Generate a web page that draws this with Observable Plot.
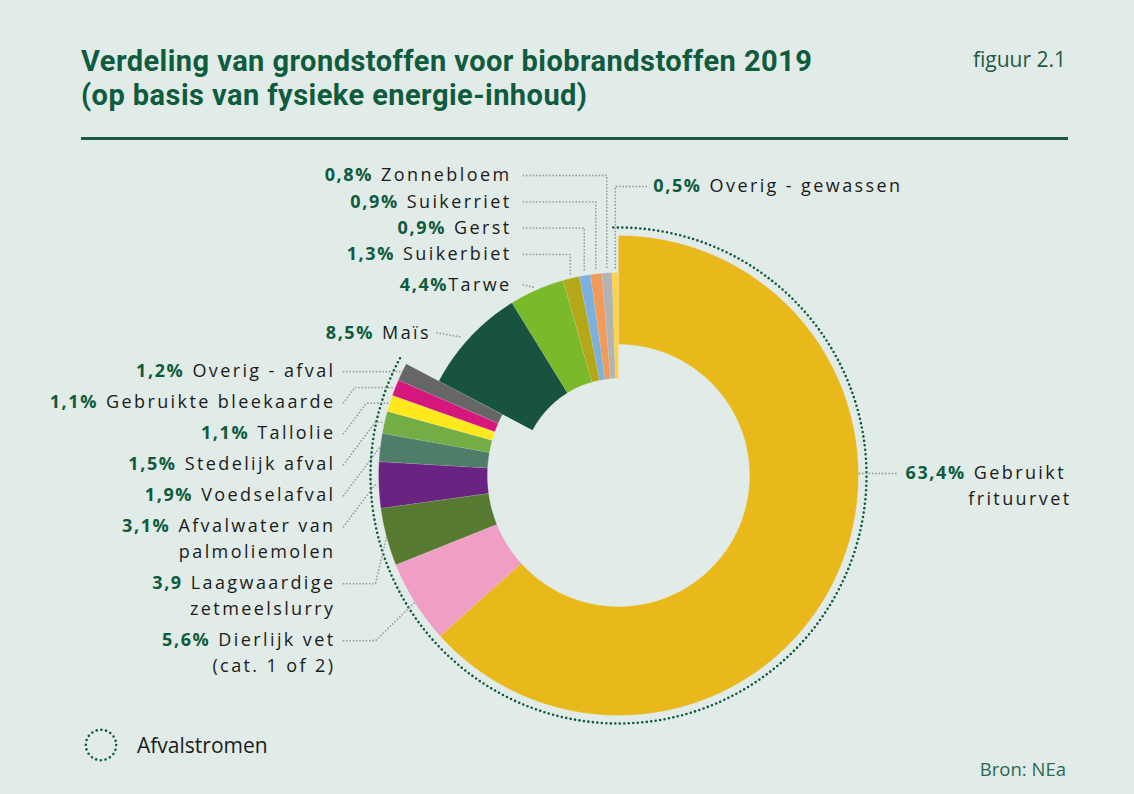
<!DOCTYPE html>
<html><head><meta charset="utf-8">
<script src="https://cdn.jsdelivr.net/npm/d3@7"></script>
<script src="https://cdn.jsdelivr.net/npm/@observablehq/plot@0.6"></script>
<style>
html,body{margin:0;padding:0;background:#ffffff;}
#card{position:relative;width:1134px;height:794px;background:#e1ebe7;overflow:hidden;font-family:"Open Sans",sans-serif;}
.title{position:absolute;left:81px;font-family:Roboto,"Open Sans",sans-serif;font-weight:bold;font-size:29px;line-height:29px;letter-spacing:0.45px;color:#0f5b3d;white-space:nowrap;}
#t1{top:47px;}
#t2{top:81px;}
#fig{position:absolute;right:68px;top:49px;font-size:21px;line-height:21px;color:#1d5c45;}
#rule{position:absolute;left:81px;top:137px;width:987px;height:3px;background:#1b5a41;}
#chart{position:absolute;left:0;top:150px;}
#chart svg{letter-spacing:2.4px;}
#chart g[font-weight="700"]{letter-spacing:1.6px;}
#legend{position:absolute;left:84px;top:728px;display:flex;align-items:center;gap:19px;font-size:21px;color:#1b1b1b;}
#source{position:absolute;right:68px;top:760px;font-size:18.5px;line-height:18.5px;color:#2a6a51;}
</style></head>
<body>
<div id="card">
  <div class="title" id="t1">Verdeling van grondstoffen voor biobrandstoffen 2019</div>
  <div class="title" id="t2">(op basis van fysieke energie-inhoud)</div>
  <div id="fig">figuur 2.1</div>
  <div id="rule"></div>
  <div id="chart"></div>
  <div id="legend"><svg width="34" height="34"><circle cx="17" cy="17" r="15.2" fill="none" stroke="#0f5b3d" stroke-width="2.6" stroke-dasharray="0 4.77" stroke-linecap="round"/></svg><span>Afvalstromen</span></div>
  <div id="source">Bron: NEa</div>
</div>
<script>
// ---- data (clockwise from 12 o'clock) ----
const categories = ["Gebruikt frituurvet","Dierlijk vet (cat. 1 of 2)","Laagwaardige zetmeelslurry","Afvalwater van palmoliemolen","Voedselafval","Stedelijk afval","Tallolie","Gebruikte bleekaarde","Overig - afval","Maïs","Tarwe","Suikerbiet","Gerst","Suikerriet","Zonnebloem","Overig - gewassen"];
const values = [63.4, 5.6, 3.9, 3.1, 1.9, 1.5, 1.1, 1.1, 1.2, 8.5, 4.4, 1.3, 0.9, 0.9, 0.8, 0.5];
const groups = ["afval","afval","afval","afval","afval","afval","afval","afval","afval","gewas","gewas","gewas","gewas","gewas","gewas","gewas"];
const colors = ["#e9b81a","#f09ec4","#567a2f","#6a2380","#4e7d69","#72ad45","#ffe91e","#d5177e","#666666","#175340","#7ab929","#b5a818","#7db0dd","#f29a5a","#b3b3b3","#ffd23f"];
const pctLabels = ["63,4%","5,6%","3,9","3,1%","1,9%","1,5%","1,1%","1,1%","1,2%","8,5%","4,4%","1,3%","0,9%","0,9%","0,8%","0,5%"];
const nameLines = [["Gebruikt","frituurvet"],["Dierlijk vet","(cat. 1 of 2)"],["Laagwaardige","zetmeelslurry"],["Afvalwater van","palmoliemolen"],["Voedselafval"],["Stedelijk afval"],["Tallolie"],["Gebruikte bleekaarde"],["Overig - afval"],["Maïs"],["Tarwe"],["Suikerbiet"],["Gerst"],["Suikerriet"],["Zonnebloem"],["Overig - gewassen"]];

// ---- geometry (pixel-like units, y up, centre of donut at 0,0) ----
const ring = {afval: [131, 240], gewas: [97, 203]};
const rad = a => a * Math.PI / 180;
const pt = (a, r) => ({x: r * Math.sin(rad(a)), y: r * Math.cos(rad(a))});
const total = d3.sum(values);
let cum = 0;
const slices = categories.map((name, i) => {
  const a0 = cum / total * 360; cum += values[i]; const a1 = cum / total * 360;
  return {i, name, a0, a1, mid: (a0 + a1) / 2, group: groups[i]};
});

const ringPts = [];
for (const s of slices) {
  const [r0, r1] = ring[s.group];
  const n = Math.max(2, Math.ceil((s.a1 - s.a0) / 0.5));
  for (let k = 0; k <= n; k++) ringPts.push({name: s.name, ...pt(s.a0 + (s.a1 - s.a0) * k / n, r1)});
  for (let k = n; k >= 0; k--) ringPts.push({name: s.name, ...pt(s.a0 + (s.a1 - s.a0) * k / n, r0)});
}

// dotted arc around the waste streams
const arcPts = d3.range(-1.2, 299.01, 0.25).map(a => pt(a, 248));

// ---- text measurement ----
const ctx = document.createElement("canvas").getContext("2d");
const LSN = 2.4, LSP = 1.6;
function tw(str, weight) { ctx.font = `${weight} 18px "Open Sans"`; return ctx.measureText(str).width + (weight > 500 ? LSP : LSN) * str.length; }

const nameRows = [], pctRows = [], leaders = [];
function addLabel(i, anchor, x, y, L, path) {
  const lines = nameLines[i], pct = pctLabels[i];
  const gap = categories[i] === "Tarwe" ? 0 : 8;
  if (anchor === "end") {
    lines.forEach((t, k) => nameRows.push({text: t, x, y: y - 26 * k, anchor}));
    pctRows.push({text: pct, x: x - tw(lines[0], 400) - gap, y, anchor: "end"});
  } else if (anchor === "start") {
    pctRows.push({text: pct, x, y, anchor: "start"});
    lines.forEach((t, k) => nameRows.push({text: t, x: x + tw(pct, 700) + gap, y: y - 26 * k, anchor: "start"}));
  } else {
    pctRows.push({text: pct, x, y, anchor: "start"});
    const cx = x + tw(pct, 700) + gap + tw(lines[0], 400) / 2;
    lines.forEach((t, k) => nameRows.push({text: t, x: cx, y: y - 26 * k, anchor: "middle"}));
  }
  path.forEach(p => leaders.push({id: i, ...p}));
}

// waste labels in a column on the left
const leftX = -283;
let yCur = pt(slices[8].mid, 240).y;
for (let i = 8; i >= 1; i--) {
  const s = slices[i], A = pt(s.mid, 240), y = yCur;
  const L = {x: leftX + 8, y};
  let path;
  if (s.mid > 260) { const dy = A.y - y; path = [L, {x: Math.min(A.x, L.x + 0.75 * dy), y: A.y}, A]; }
  else path = [L, {x: L.x + 32, y}, A];
  addLabel(i, "end", leftX, y, L, path);
  yCur -= 31 + 26 * (nameLines[i].length - 1);
}
// main slice label on the right
{
  const y = 2, x = 287;
  const A = {x: Math.sqrt(241 * 241 - y * y), y};
  addLabel(0, "middle", x, y, null, [A, {x: x - 8, y}]);
}
// small crops: column above the donut with elbow leaders
const cropX = -107, cropTop = 300, step = 26.3;
[14, 13, 12, 11].forEach((i, k) => {
  const y = cropTop - k * step, A = pt(slices[i].mid, 207), L = {x: cropX + 12, y};
  addLabel(i, "end", cropX, y, L, [L, {x: A.x, y}, A]);
});
{
  const i = 15, A = pt(slices[i].mid, 207), y = cropTop - 11, x = A.x + 38;
  addLabel(i, "start", x, y, null, [{x: x - 7, y}, {x: A.x, y}, A]);
}
{ // Tarwe
  const i = 10, A = pt(slices[i].mid, 205), y = A.y + 3;
  addLabel(i, "end", cropX, y, null, [{x: cropX + 12, y}, A]);
}
{ // Maïs
  const i = 9, A = pt(slices[i].mid, 206), y = A.y + 2, x = A.x - 37;
  addLabel(i, "end", x, y, null, [{x: x + 6, y}, {x: A.x - 8, y: A.y - 2}]);
}

const textMarks = [];
for (const anchor of ["start", "end", "middle"]) {
  const n = nameRows.filter(d => d.anchor === anchor), p = pctRows.filter(d => d.anchor === anchor);
  if (n.length) textMarks.push(Plot.text(n, {x: "x", y: "y", text: "text", textAnchor: anchor, fill: "#1b1b1b", fontSize: 18, fontWeight: 400}));
  if (p.length) textMarks.push(Plot.text(p, {x: "x", y: "y", text: "text", textAnchor: anchor, fill: "#0f5b3d", fontSize: 18, fontWeight: 700}));
}

const chart = Plot.plot({
  width: 1134, height: 580, margin: 0,
  x: {domain: [-618, 516], axis: null},
  y: {domain: [-255, 325], axis: null},
  color: {domain: categories, range: colors},
  style: {background: "transparent", fontFamily: "'Open Sans', sans-serif", fontSize: "18px", overflow: "visible"},
  marks: [
    Plot.line(ringPts, {x: "x", y: "y", z: "name", fill: "name", stroke: "#e1ebe7", strokeWidth: 0.5, strokeOpacity: 0.7, curve: "linear"}),
    Plot.line(arcPts, {x: "x", y: "y", stroke: "#0f5b3d", strokeWidth: 2.6, strokeDasharray: "0 4.5", strokeLinecap: "round"}),
    Plot.line(leaders, {x: "x", y: "y", z: "id", stroke: "#9c9c9c", strokeWidth: 1.8, strokeDasharray: "0 3.3", strokeLinecap: "round"}),
    ...textMarks
  ]
});
document.getElementById("chart").appendChild(chart);
</script>
</body></html>
